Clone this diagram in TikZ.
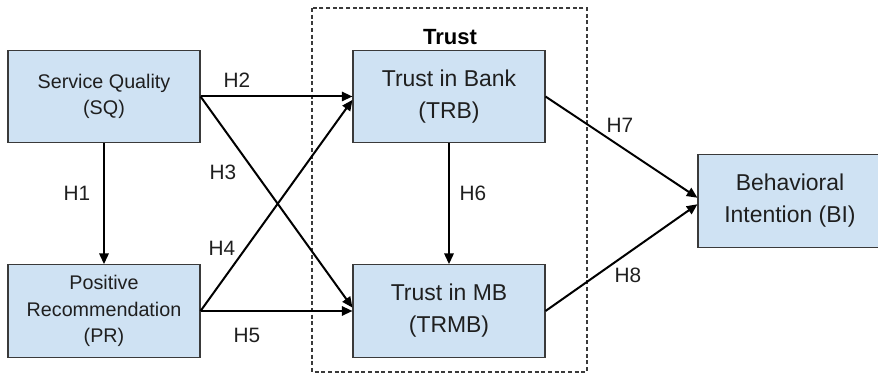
\documentclass[tikz,border=0pt]{standalone}
\usepackage{fontspec}
\setmainfont{Liberation Sans}
\usetikzlibrary{arrows.meta}
\definecolor{boxblue}{HTML}{CFE2F3}
\definecolor{boxline}{HTML}{3A3A3A}
\definecolor{txtgray}{HTML}{1F1F1F}

\begin{document}
\begin{tikzpicture}[x=0.75pt,y=0.75pt,yscale=-1,xscale=1,
    smallbox/.style={draw=boxline,fill=boxblue,line width=0.8pt,minimum width=144pt,minimum height=69.5pt,align=center,inner sep=0pt,text=txtgray,font=\fontsize{14.8}{20}\selectfont},
    bigbox/.style={smallbox,font=\fontsize{17.2}{24}\selectfont},
    hlabel/.style={inner sep=0.75pt,text=txtgray,font=\fontsize{15.6}{18}\selectfont},
    hyp/.style={line width=1.5pt,-{Triangle[length=8pt,width=7pt]}}]
    \useasboundingbox (0,0) rectangle (878,373);
    %Shape: Rectangle [dashed group]
    \draw [line width=0.85pt, dash pattern=on 3pt off 2pt, boxline] (312,8) rectangle (587,372);
    % Text Node
    \draw (450,37) node [inner sep=0.75pt, font=\fontsize{16.5}{18}\selectfont\bfseries] (trust) {Trust};
    %Shape: Boxes
    \node [smallbox] (SQ) at (104,96.5) {Service Quality\\(SQ)};
    \node [smallbox] (PR) at (104,311) {Positive\\Recommendation\\(PR)};
    \node [bigbox] (TRB) at (449,96.5) {Trust in Bank\\(TRB)};
    \node [bigbox] (TRMB) at (449,311) {Trust in MB\\(TRMB)};
    \node [bigbox, minimum width=138pt] (BI) at (790,201) {Behavioral\\Intention (BI)};
    %Straight Lines
    \draw [hyp] (SQ.south) -- (PR.north);
    \draw [hyp] (SQ.east) -- (TRB.west);
    \draw [hyp] (SQ.east) -- (TRMB.178);
    \draw [hyp] (PR.east) -- (TRB.182);
    \draw [hyp] (PR.east) -- (TRMB.west);
    \draw [hyp] (TRB.south) -- (TRMB.north);
    \draw [hyp] (TRB.east) -- (BI.178);
    \draw [hyp] (TRMB.east) -- (BI.182);
    % Text Node
    \draw (77,193) node [hlabel] (h1) {H1};
    % Text Node
    \draw (237,80) node [hlabel] (h2) {H2};
    % Text Node
    \draw (223,172) node [hlabel] (h3) {H3};
    % Text Node
    \draw (222,248) node [hlabel] (h4) {H4};
    % Text Node
    \draw (247,335) node [hlabel] (h5) {H5};
    % Text Node
    \draw (473,193) node [hlabel] (h6) {H6};
    % Text Node
    \draw (620,125) node [hlabel] (h7) {H7};
    % Text Node
    \draw (628,275) node [hlabel] (h8) {H8};
\end{tikzpicture}
\end{document}
